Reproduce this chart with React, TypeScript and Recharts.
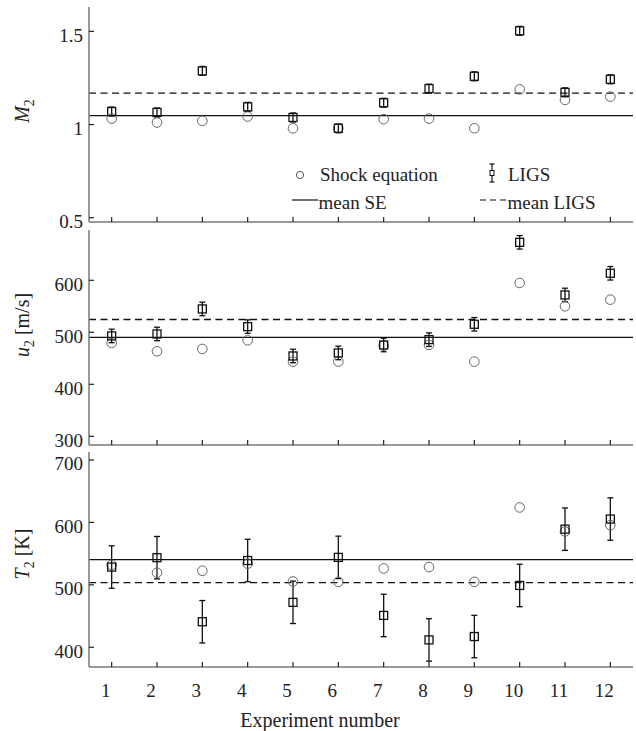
import React from 'react'
import {
  ScatterChart, Scatter, XAxis, YAxis, ErrorBar, ReferenceLine, Label, Customized,
} from 'recharts'

const experiments = [1, 2, 3, 4, 5, 6, 7, 8, 9, 10, 11, 12]

// M2
const machShock = [1.032, 1.011, 1.02, 1.043, 0.98, 0.98, 1.029, 1.032, 0.98, 1.189, 1.132, 1.15]
const machLigs = [1.07, 1.065, 1.288, 1.095, 1.038, 0.98, 1.117, 1.193, 1.259, 1.503, 1.173, 1.243]
const machErr = [0.024, 0.024, 0.024, 0.024, 0.024, 0.024, 0.024, 0.024, 0.024, 0.024, 0.024, 0.024]
const machTicks = [0.5, 1, 1.5]

// u2 [m/s]
const velShock = [479.5, 463.5, 468, 484.6, 443.6, 443.6, 474.4, 475.6, 443.6, 594.9, 550, 562.8]
const velLigs = [493, 496.8, 544.9, 510.9, 454.5, 460.3, 475.6, 485.9, 515.4, 673, 571.8, 613.5]
const velErr = [13, 13, 13, 13, 13, 13, 13, 13, 13, 13, 13, 13]
const velTicks = [300, 400, 500, 600]

// T2 [K]
const tempShock = [532, 519.4, 522.6, 533.9, 505.4, 504.8, 526.3, 528.5, 504.8, 624, 585.5, 595.7]
const tempLigs = [528.5, 543.5, 440.9, 539, 472, 544, 451, 411.8, 417.2, 499, 589.2, 605.4]
const tempErr = [34, 34, 34, 34, 34, 34, 34, 34, 34, 34, 34, 34]
const tempTicks = [400, 500, 600, 700]

const FONT = "'Liberation Serif', 'DejaVu Serif', serif"
const AXIS = { stroke: '#777', strokeWidth: 1.5 }
const mean = (a: number[]) => a.reduce((s, v) => s + v, 0) / a.length

const rows = (ys: number[], errs?: number[]) =>
  experiments.map((x, i) => ({ x, y: ys[i], err: errs ? errs[i] : 0 }))

const Circle = (p: any) => (
  <circle cx={p.cx} cy={p.cy} r={4.8} fill="none" stroke="#666" strokeWidth={1} />
)
const Square = (p: any) => (
  <rect x={p.cx - 4} y={p.cy - 4} width={8} height={8} fill="none" stroke="#111" strokeWidth={1.3} />
)

const xTick = (showLabel: boolean) => (p: any) => (
  <g>
    <line x1={p.x} y1={p.y} x2={p.x} y2={p.y - 5} stroke="#222" strokeWidth={1.2} />
    {showLabel && (
      <text x={p.x - 6} y={p.y + 29.6} textAnchor="middle" fontFamily={FONT} fontSize={19} fill="#222">
        {p.payload.value}
      </text>
    )}
  </g>
)

const yTick = (p: any) => (
  <g>
    <line x1={p.x} y1={p.y} x2={p.x + 5} y2={p.y} stroke="#222" strokeWidth={1.2} />
    <text x={p.x - 6} y={p.y + 10.3} textAnchor="end" fontFamily={FONT} fontSize={19} fill="#222">
      {p.payload.value}
    </text>
  </g>
)

const yTitle = (sym: string, unit: string, cy: number) => () => (
  <text x={29} y={cy} transform={`rotate(-90 29 ${cy})`} textAnchor="middle" fontFamily={FONT} fontSize={20} fill="#222">
    <tspan fontStyle="italic">{sym}</tspan>
    <tspan dy={5} fontSize={14}>2</tspan>
    {unit && <tspan dy={-5}>{' ' + unit}</tspan>}
  </text>
)

const legendText = { fontFamily: FONT, fontSize: 19, fill: '#222' }

const LegendBox = () => (
  <g>
    <circle cx={300} cy={175} r={3.6} fill="none" stroke="#555" strokeWidth={1} />
    <text x={320} y={181} {...legendText}>Shock equation</text>
    <line x1={492} y1={164} x2={492} y2={182} stroke="#111" strokeWidth={1.2} />
    <line x1={489.5} y1={164} x2={494.5} y2={164} stroke="#111" strokeWidth={1.2} />
    <line x1={489.5} y1={182} x2={494.5} y2={182} stroke="#111" strokeWidth={1.2} />
    <rect x={490} y={170.5} width={4} height={5} fill="#fff" stroke="#111" strokeWidth={1} />
    <text x={508} y={181} {...legendText}>LIGS</text>
    <line x1={292} y1={200} x2={318} y2={200} stroke="#111" strokeWidth={1.2} />
    <text x={318.5} y={208.5} {...legendText}>mean SE</text>
    <line x1={480} y1={200} x2={507} y2={200} stroke="#111" strokeWidth={1.2} strokeDasharray="6 4" />
    <text x={507.5} y={208.5} {...legendText}>mean LIGS</text>
  </g>
)

interface PanelProps {
  top: number
  height: number
  marginTop: number
  marginBottom: number
  xHeight: number
  domain: [number, number]
  ticks: number[]
  shock: number[]
  ligs: number[]
  err: number[]
  title: () => React.ReactElement
  bottom?: boolean
  legend?: boolean
}

function Panel({ top, height, marginTop, marginBottom, xHeight, domain, ticks, shock, ligs, err, title, bottom, legend }: PanelProps) {
  return (
    <div style={{ position: 'absolute', left: 0, top, width: 636, height }}>
      <ScatterChart width={636} height={height} margin={{ top: marginTop, right: 3, bottom: marginBottom, left: 0 }}>
        <XAxis
          type="number" dataKey="x" domain={[0.5, 12.5]} ticks={experiments} allowDataOverflow
          height={xHeight} axisLine={AXIS} tickLine={false} tickSize={0} tickMargin={0}
          tick={xTick(!!bottom)} interval={0}
        >
          {bottom && (
            <Label content={() => (
              <text x={320} y={281} textAnchor="middle" fontFamily={FONT} fontSize={20} fill="#222">
                Experiment number
              </text>
            )} />
          )}
        </XAxis>
        <YAxis
          type="number" dataKey="y" domain={domain} ticks={ticks} allowDataOverflow
          width={89} axisLine={AXIS} tickLine={false} tickSize={0} tickMargin={0} tick={yTick} interval={0}
        >
          <Label content={title} />
        </YAxis>
        <ReferenceLine y={mean(shock)} stroke="#111" strokeWidth={1.3} />
        <ReferenceLine y={mean(ligs)} stroke="#111" strokeWidth={1.3} strokeDasharray="7 4.5" />
        <Scatter data={rows(shock)} shape={Circle} isAnimationActive={false} />
        <Scatter data={rows(ligs, err)} shape={Square} isAnimationActive={false}>
          <ErrorBar dataKey="err" direction="y" width={3} stroke="#111" strokeWidth={1.3} />
        </Scatter>
        {legend && <Customized component={LegendBox} />}
      </ScatterChart>
    </div>
  )
}

export default function App() {
  return (
    <div style={{ position: 'absolute', left: 0, top: 0, width: 636, height: 731, background: '#fff' }}>
      <Panel
        top={0} height={233} marginTop={7} marginBottom={7} xHeight={4}
        domain={[0.477, 1.631]} ticks={machTicks}
        shock={machShock} ligs={machLigs} err={machErr}
        title={yTitle('M', '', 111)} legend
      />
      <Panel
        top={226} height={229} marginTop={4} marginBottom={6} xHeight={4}
        domain={[283.3, 696.7]} ticks={velTicks}
        shock={velShock} ligs={velLigs} err={velErr}
        title={yTitle('u', '[m/s]', 99)}
      />
      <Panel
        top={446} height={285} marginTop={6} marginBottom={0} xHeight={64}
        domain={[368.4, 712.8]} ticks={tempTicks}
        shock={tempShock} ligs={tempLigs} err={tempErr}
        title={yTitle('T', '[K]', 108)} bottom
      />
    </div>
  )
}
